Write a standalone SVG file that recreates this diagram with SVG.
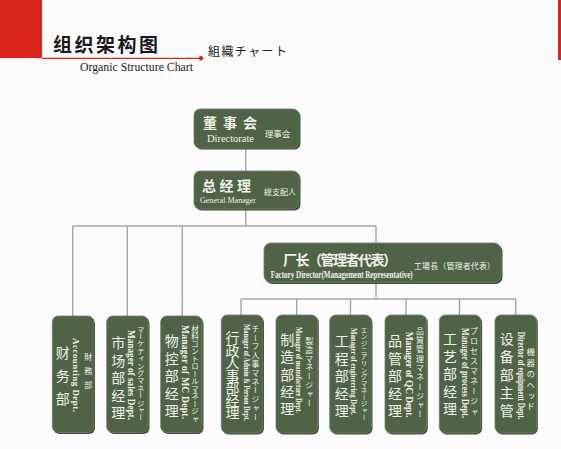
<svg xmlns="http://www.w3.org/2000/svg" width="561" height="449" viewBox="0 0 561 449">
<defs>
<style>
.bg{fill:#fcfcfc}
.red{fill:#da251d}
.box{fill:#4f6347;stroke:#6b7d62;stroke-width:0.8}
.shadow{fill:#1f2a1c;opacity:0.85}
.conn{stroke:#a6a6a6;stroke-width:1.4;fill:none}
.cn{font-family:"Noto Sans CJK SC","Noto Sans CJK JP",sans-serif;fill:#f2f2ea}
.big{font-size:14px;text-anchor:middle;dominant-baseline:central}
.jp{font-family:"Noto Sans CJK JP","Noto Sans CJK SC",sans-serif;fill:#f2f2ea;writing-mode:vertical-rl}
.en{font-family:"Liberation Serif",serif;fill:#f2f2ea;font-weight:bold;dominant-baseline:central}
</style>
</defs>
<rect class="bg" x="0" y="0" width="561" height="449"/>
<g id="header">
<rect class="red" x="0" y="0" width="42" height="58"/>
<rect class="red" x="558" y="0" width="3" height="60"/>
<line x1="42" y1="58.3" x2="201" y2="58.3" stroke="#da251d" stroke-width="1.2"/>
<circle cx="201" cy="58.3" r="2.2" fill="#da251d"/>
<text x="53" y="52" font-family="'Noto Sans CJK SC',sans-serif" font-weight="bold" font-size="19" textLength="105" lengthAdjust="spacing" fill="#1a1a1a">组织架构图</text>
<text x="80" y="71" font-family="'Liberation Serif',serif" font-size="12" textLength="113" lengthAdjust="spacingAndGlyphs" fill="#222">Organic Structure Chart</text>
<text x="208" y="56" font-family="'Noto Sans CJK JP',sans-serif" font-size="12" textLength="79" lengthAdjust="spacing" fill="#222">組織チャート</text>
</g>
<g id="connectors">
<path class="conn" d="M245.7 149V171M245.7 209V226M72.7 226H376M376 226V243M72.7 226V316M127.3 226V316M182.3 226V316M376 283V299M241 299H515.7M241 299V315M296.7 299V315M350.5 299V315M406 299V315M459.5 299V315M515.7 299V315"/>
</g>
<g id="n-board">
<rect class="shadow" x="195.5" y="110.5" width="105" height="39" rx="6"/>
<rect class="box" x="194" y="109" width="105" height="39" rx="6"/>
<text class="cn big" font-weight="bold" x="210 230 250" y="121.5 121.5 121.5">董事会</text>
<text x="230.5" y="142" font-family="'Liberation Serif',serif" font-size="10.5" text-anchor="middle" textLength="47" lengthAdjust="spacing" fill="#f2f2ea">Directorate</text>
<text class="cn" x="277.5" y="133" font-size="8.5" text-anchor="middle" dominant-baseline="central">理事会</text>
</g>
<g id="n-gm">
<rect class="shadow" x="195.5" y="172.5" width="105" height="38" rx="6"/>
<rect class="box" x="194" y="171" width="105" height="38" rx="6"/>
<text class="cn big" font-weight="bold" x="209 226.5 244" y="184.5 184.5 184.5">总经理</text>
<text x="228" y="202.5" font-family="'Liberation Serif',serif" font-size="9" text-anchor="middle" textLength="56" lengthAdjust="spacingAndGlyphs" fill="#f2f2ea">General Manager</text>
<text class="cn" x="280" y="191.7" font-size="8" text-anchor="middle" dominant-baseline="central">総支配人</text>
</g>
<g id="n-factory">
<rect class="shadow" x="265.5" y="244.5" width="237" height="39.5" rx="7"/>
<rect class="box" x="264" y="243" width="237" height="39.5" rx="7"/>
<text class="cn" x="283" y="258.5" font-size="14" font-weight="bold" dominant-baseline="central" textLength="114" lengthAdjust="spacing">厂长（管理者代表）</text>
<text x="270.7" y="278.3" font-family="'Liberation Serif',serif" font-size="9.5" font-weight="bold" textLength="142" lengthAdjust="spacingAndGlyphs" fill="#f2f2ea">Factory Director(Management Representative)</text>
<text class="cn" x="414" y="265" font-size="8" dominant-baseline="central" textLength="81" lengthAdjust="spacing">工場長（管理者代表）</text>
</g>
<g id="n-acc">
<rect class="shadow" x="53.5" y="317.5" width="41.5" height="116.5" rx="6"/>
<rect class="box" x="52.3" y="316" width="41.5" height="116.5" rx="6"/>
<text class="cn big" x="62.7 62.7 62.7" y="352 375 398">财务部</text>
<text class="en" font-weight="normal" font-size="9" transform="translate(76 338) rotate(90)" textLength="74" lengthAdjust="spacing">Accounting Dept.</text>
<text class="jp" x="88.3" y="353" font-size="8" letter-spacing="6">財務部</text>
</g>
<g id="n-sales">
<rect class="shadow" x="108" y="317.5" width="41.5" height="116.5" rx="6"/>
<rect class="box" x="106.7" y="316" width="41.5" height="116.5" rx="6"/>
<text class="cn big" x="118.3 118.3 118.3 118.3 118.3" y="342 359.5 377 394.5 412">市场部经理</text>
<text class="en" font-size="9.5" transform="translate(130.7 330) rotate(90)" textLength="90" lengthAdjust="spacingAndGlyphs">Manager of sales Dept.</text>
<text class="jp" x="140.7" y="325" font-size="7.4">マーケティングマネージャー</text>
</g>
<g id="n-mc">
<rect class="shadow" x="162" y="317.5" width="41.5" height="116.5" rx="6"/>
<rect class="box" x="160.7" y="316" width="41.5" height="116.5" rx="6"/>
<text class="cn big" x="171.7 171.7 171.7 171.7 171.7" y="340 357.5 375 392.5 410">物控部经理</text>
<text class="en" font-size="9.5" transform="translate(185 325) rotate(90)" textLength="94" lengthAdjust="spacing">Manager of MC Dept.</text>
<text class="jp" x="195" y="325" font-size="7.5">材料コントロールマネージャ</text>
</g>
<g id="n-admin">
<rect class="shadow" x="222.5" y="316.5" width="41.5" height="118" rx="6"/>
<rect class="box" x="221.3" y="315" width="41.5" height="118" rx="6"/>
<text class="cn big" font-size="11.5" x="232.5 232.5 232.5 232.5 232.5 232.5 232.5" y="337 349.5 362 374.5 387 399.5 412">行政人事部经理</text>
<text class="en" font-size="7.3" transform="translate(246.3 324) rotate(90)" textLength="97" lengthAdjust="spacingAndGlyphs">Manager of Admin &amp; Person Dept.</text>
<text class="jp" x="255.5" y="325" font-size="7.8" letter-spacing="1">チーフ人事マネージャー</text>
</g>
<g id="n-mfg">
<rect class="shadow" x="277.3" y="316.5" width="41.5" height="118" rx="6"/>
<rect class="box" x="276" y="315" width="41.5" height="118" rx="6"/>
<text class="cn big" x="287.3 287.3 287.3 287.3 287.3" y="339 356.3 373.5 390.8 408">制造部经理</text>
<text class="en" font-size="9" transform="translate(299.3 327) rotate(90)" textLength="86" lengthAdjust="spacingAndGlyphs">Manager of manufacture Dept.</text>
<text class="jp" x="309.3" y="336.7" font-size="8" letter-spacing="0.9">製造マネージャー</text>
</g>
<g id="n-eng">
<rect class="shadow" x="331" y="316.5" width="41.5" height="118" rx="6"/>
<rect class="box" x="329.7" y="315" width="41.5" height="118" rx="6"/>
<text class="cn big" x="341.7 341.7 341.7 341.7 341.7" y="340 357.5 375 392.5 410">工程部经理</text>
<text class="en" font-size="9" transform="translate(354 328) rotate(90)" textLength="87" lengthAdjust="spacingAndGlyphs">Manager of engineering Dept.</text>
<text class="jp" x="364" y="326.7" font-size="6.7">エンジニアリングマネージャー</text>
</g>
<g id="n-qc">
<rect class="shadow" x="386.3" y="316.5" width="41.5" height="118" rx="6"/>
<rect class="box" x="385" y="315" width="41.5" height="118" rx="6"/>
<text class="cn big" x="395 395 395 395 395" y="340 357.5 375 392.5 410">品管部经理</text>
<text class="en" font-size="9.5" transform="translate(409.3 331.7) rotate(90)" textLength="86" lengthAdjust="spacing">Manager of QC Dept.</text>
<text class="jp" x="420" y="326.7" font-size="8" letter-spacing="1.3">品質管理マネージャー</text>
</g>
<g id="n-proc">
<rect class="shadow" x="440.6" y="316.5" width="41.5" height="118" rx="6"/>
<rect class="box" x="439.3" y="315" width="41.5" height="118" rx="6"/>
<text class="cn big" x="450 450 450 450 450" y="338 355.5 373 390.5 408">工艺部经理</text>
<text class="en" font-size="9.5" transform="translate(465 328) rotate(90)" textLength="90" lengthAdjust="spacingAndGlyphs">Manager of process Dept.</text>
<text class="jp" x="474" y="326.7" font-size="8" letter-spacing="2.1">プロセスマネージャ</text>
</g>
<g id="n-equip">
<rect class="shadow" x="496.3" y="316.5" width="41.5" height="118" rx="6"/>
<rect class="box" x="495" y="315" width="41.5" height="118" rx="6"/>
<text class="cn big" x="506.7 506.7 506.7 506.7 506.7" y="338 356 374 392 410">设备部主管</text>
<text class="en" font-size="9.5" transform="translate(520.7 331.7) rotate(90)" textLength="88" lengthAdjust="spacingAndGlyphs">Director of equipment Dept.</text>
<text class="jp" x="530.7" y="348" font-size="8.5" letter-spacing="2.3">機器のヘッド</text>
</g>
</svg>
